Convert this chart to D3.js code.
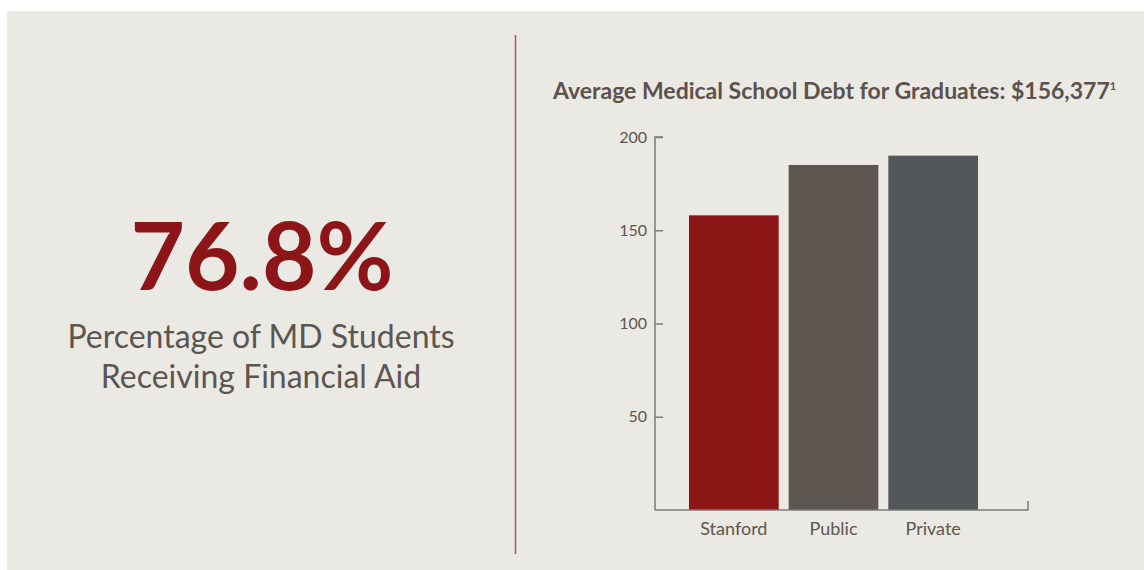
<!DOCTYPE html>
<html>
<head>
<meta charset="utf-8">
<script src="https://cdn.jsdelivr.net/npm/d3@7"></script>
<style>
  html, body { margin: 0; padding: 0; background: #ffffff; }
  svg { display: block; }
</style>
</head>
<body>
<svg id="chart" width="1144" height="570"></svg>
<script>
const categories = ["Stanford", "Public", "Private"];
const debtValues = [158, 185, 190];
const yTicks = [50, 100, 150, 200];
const barColors = ["#8c1515", "#5e5650", "#53575a"];
const bigStat = "76.8%";
const statLines = ["Percentage of MD Students", "Receiving Financial Aid"];
const chartTitle = "Average Medical School Debt for Graduates: $156,377";
const titleNote = "1";

const FONT = "'Source Sans Pro', Lato, 'Open Sans', sans-serif";
const svg = d3.select("#chart");

svg.append("rect").attr("x", 7).attr("y", 11).attr("width", 1137).attr("height", 559).attr("fill", "#ebe9e4");

// divider
svg.append("line").attr("x1", 515.5).attr("x2", 515.5).attr("y1", 35).attr("y2", 554)
  .attr("stroke", "#a9575b").attr("stroke-width", 1.5);

// left stat
svg.append("text").attr("x", 262).attr("y", 290).attr("text-anchor", "middle")
  .attr("font-family", FONT).attr("font-weight", 700).attr("font-size", 94)
  .attr("fill", "#8b1517").text(bigStat);
statLines.forEach((s, i) => {
  svg.append("text").attr("x", 261).attr("y", 348 + i * 40).attr("text-anchor", "middle")
    .attr("font-family", FONT).attr("font-size", 32).attr("fill", "#5d5550").text(s);
});

// title
const t = svg.append("text").attr("x", 553).attr("y", 99)
  .attr("font-family", FONT).attr("font-weight", 700).attr("font-size", 23)
  .attr("fill", "#5b524d");
t.append("tspan").text(chartTitle);
t.append("tspan").attr("font-size", 11).attr("dy", -9).text(titleNote);

// scales
const y = d3.scaleLinear().domain([0, 200]).range([510, 137]);
const x = d3.scaleBand().domain(categories).range([684, 983]).paddingInner(0.1).paddingOuter(0.05);

const axisColor = "#7b7b7b";

// bars
svg.append("g").selectAll("rect").data(categories).join("rect")
  .attr("x", d => x(d)).attr("width", x.bandwidth())
  .attr("y", (d, i) => y(debtValues[i]))
  .attr("height", (d, i) => y(0) - y(debtValues[i]))
  .attr("fill", (d, i) => barColors[i]);

// y axis (ticks pointing inward)
const yAxis = svg.append("g").attr("transform", "translate(655,0)")
  .call(d3.axisRight(y).tickValues(yTicks).tickSize(8).tickSizeOuter(0));
yAxis.select(".domain").remove();
yAxis.append("path").attr("d", `M8,${y(200)}H0V${y(0)}`).attr("fill", "none").attr("stroke", axisColor).attr("stroke-width", 1.5);
yAxis.selectAll(".tick line").attr("stroke", axisColor).attr("stroke-width", 1.5);
yAxis.selectAll(".tick text").attr("x", -8).attr("text-anchor", "end")
  .attr("font-family", FONT).attr("font-size", 16).attr("fill", "#5d5550");

// x axis
const xAxis = svg.append("g").attr("transform", `translate(0,${y(0)})`)
  .call(d3.axisBottom(x).tickSize(0).tickPadding(12));
xAxis.select(".domain").remove();
xAxis.append("path").attr("d", `M655,0H1028V-9`).attr("fill", "none").attr("stroke", axisColor).attr("stroke-width", 1.5);
xAxis.selectAll(".tick text").attr("font-family", FONT).attr("font-size", 18).attr("fill", "#5d5550");
</script>
</body>
</html>
